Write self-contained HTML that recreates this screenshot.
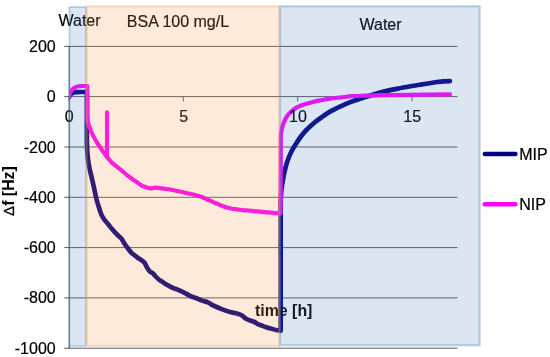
<!DOCTYPE html>
<html>
<head>
<meta charset="utf-8">
<title>QCM frequency shift: MIP vs NIP</title>
<style>
html,body{margin:0;padding:0;background:#fff;}
body{width:550px;height:357px;overflow:hidden;}
svg{display:block;}
text{font-family:"Liberation Sans",Arial,sans-serif;fill:#000;}
.lbl{font-size:16px;stroke:#000;stroke-width:0.2px;}
.b{font-weight:bold;font-size:15.9px;fill:#000;}
</style>
</head>
<body>
<svg width="550" height="357" viewBox="0 0 550 357">
  <defs>
    <clipPath id="plot"><rect x="69.1" y="0" width="400" height="357"/></clipPath>
    <filter id="soft" x="-5%" y="-5%" width="110%" height="110%"><feGaussianBlur stdDeviation="0.45"/></filter>
  </defs>
  <rect x="0" y="0" width="550" height="357" fill="#ffffff"/>

  <!-- gridlines, axis, ticks -->
  <g stroke="#484848" stroke-width="0.9" fill="none">
    <line x1="64.2" y1="46.4" x2="457.5" y2="46.4"/>
    <line x1="64.2" y1="96.6" x2="457.5" y2="96.6"/>
    <line x1="64.2" y1="147.0" x2="457.5" y2="147.0"/>
    <line x1="64.2" y1="197.3" x2="457.5" y2="197.3"/>
    <line x1="64.2" y1="247.6" x2="457.5" y2="247.6"/>
    <line x1="64.2" y1="297.9" x2="457.5" y2="297.9"/>
    <line x1="64.2" y1="348.2" x2="457.5" y2="348.2"/>
    <line x1="69.2" y1="46" x2="69.2" y2="348.6" stroke="#2a2a2a"/>
    <line x1="69.3" y1="96.6" x2="69.3" y2="101.4"/>
    <line x1="183.3" y1="96.6" x2="183.3" y2="101.4"/>
    <line x1="297.7" y1="96.6" x2="297.7" y2="101.4"/>
    <line x1="412" y1="96.6" x2="412" y2="101.4"/>
  </g>

  <!-- y labels -->
  <g class="lbl" text-anchor="end">
    <text x="55.7" y="51.9">200</text>
    <text x="55.7" y="102.1">0</text>
    <text x="55.7" y="152.5">-200</text>
    <text x="55.7" y="202.8">-400</text>
    <text x="55.7" y="253.1">-600</text>
    <text x="55.7" y="303.4">-800</text>
    <text x="55.7" y="353.7">-1000</text>
  </g>
  <!-- region titles -->
  <g class="lbl">
    <text x="58.5" y="26">Water</text>
    <text x="126.8" y="26.9">BSA 100 mg/L</text>
    <text x="359.5" y="29.5">Water</text>
  </g>

  <!-- MIP curve -->
  <g clip-path="url(#plot)">
  <path fill="none" stroke="#000080" stroke-width="4.7" stroke-linejoin="round" stroke-linecap="round"
    d="M69.3,96.6 C69.5,96.3 70.0,95.2 70.5,94.6 C71.0,94.0 71.4,93.6 72.0,93.2 C72.6,92.8 73.2,92.6 74.0,92.4 C74.8,92.2 75.5,92.2 76.5,92.1 C77.5,92.0 78.3,92.1 80.0,92.0 C81.7,92.0 85.8,92.0 86.9,92.0 L86.9,140.0 C86.9,141.3 87.0,145.4 87.1,148.0 C87.2,150.6 87.4,153.1 87.6,155.5 C87.8,157.9 88.2,160.2 88.5,162.5 C88.8,164.8 89.2,166.8 89.7,169.2 C90.2,171.6 91.0,174.4 91.6,177.0 C92.2,179.6 92.8,182.3 93.4,184.9 C94.0,187.5 94.5,190.0 95.0,192.5 C95.5,195.0 96.1,197.8 96.7,200.0 C97.3,202.2 97.7,203.6 98.5,206.0 C99.3,208.4 100.4,212.3 101.4,214.6 C102.4,216.9 103.5,218.4 104.6,220.0 C105.7,221.6 106.9,222.7 108.0,224.0 C109.1,225.3 110.0,226.6 111.2,228.0 C112.4,229.4 113.8,231.0 115.0,232.3 C116.2,233.6 117.5,234.9 118.6,236.0 C119.7,237.1 120.5,237.4 121.4,238.6 C122.3,239.8 123.2,241.6 124.1,243.0 C125.0,244.4 125.8,245.6 127.0,247.2 C128.2,248.8 130.2,251.5 131.5,252.8 C132.8,254.1 133.5,254.3 134.6,255.2 C135.7,256.1 137.0,257.2 138.1,258.0 C139.2,258.8 140.1,259.2 141.2,260.0 C142.2,260.8 143.4,261.2 144.4,262.5 C145.4,263.8 146.0,265.9 147.0,267.5 C148.0,269.1 149.2,270.9 150.2,271.8 C151.2,272.8 151.9,272.4 152.8,273.2 C153.7,274.0 154.7,275.4 155.7,276.5 C156.7,277.6 157.8,278.7 158.8,279.5 C159.8,280.3 160.6,280.6 161.8,281.4 C163.0,282.2 164.3,283.3 166.0,284.3 C167.7,285.3 170.2,286.7 172.0,287.5 C173.8,288.3 175.1,288.5 177.0,289.3 C178.9,290.1 181.4,291.2 183.6,292.3 C185.8,293.4 187.9,294.9 190.0,295.8 C192.1,296.8 194.0,297.2 196.0,298.0 C198.0,298.8 200.0,299.9 202.0,300.6 C204.0,301.3 206.2,301.6 208.0,302.4 C209.8,303.2 211.2,304.5 213.0,305.4 C214.8,306.3 217.0,307.2 219.0,308.0 C221.0,308.8 223.2,309.7 225.0,310.4 C226.8,311.1 228.2,311.5 230.0,312.0 C231.8,312.5 234.0,312.7 236.0,313.3 C238.0,313.9 240.5,314.7 242.0,315.5 C243.5,316.3 244.0,317.3 245.0,318.0 C246.0,318.7 246.4,318.9 248.0,319.6 C249.6,320.3 252.8,321.2 254.5,322.0 C256.2,322.8 256.8,323.6 258.0,324.2 C259.2,324.8 260.5,325.1 262.0,325.6 C263.5,326.2 265.5,327.0 267.0,327.5 C268.5,328.0 269.5,328.2 271.0,328.6 C272.5,329.0 274.4,329.7 276.0,330.0 C277.6,330.3 279.9,330.5 280.7,330.6 L280.7,200.0 C280.8,198.7 281.0,194.2 281.2,192.0 C281.4,189.8 281.5,189.2 281.9,186.5 C282.3,183.8 283.1,178.8 283.7,175.5 C284.3,172.2 284.9,169.8 285.7,167.0 C286.4,164.2 287.2,161.6 288.2,159.0 C289.2,156.4 290.3,153.9 291.5,151.5 C292.7,149.1 294.0,147.0 295.5,144.6 C297.0,142.2 298.7,139.4 300.5,137.0 C302.3,134.6 303.9,132.5 306.4,130.0 C308.9,127.5 312.8,124.1 315.5,121.8 C318.2,119.6 320.1,118.3 322.5,116.6 C324.9,114.9 327.4,113.1 330.0,111.6 C332.6,110.1 335.2,108.9 338.0,107.5 C340.8,106.2 343.8,104.8 346.5,103.6 C349.2,102.5 351.6,101.6 354.0,100.7 C356.4,99.9 358.0,99.5 361.0,98.6 C364.0,97.6 368.2,96.1 372.0,94.9 C375.8,93.8 379.3,92.7 383.6,91.6 C387.9,90.6 393.3,89.5 398.0,88.6 C402.7,87.6 408.0,86.7 412.0,86.0 C416.0,85.3 418.8,84.9 422.0,84.4 C425.2,83.9 428.5,83.4 431.0,83.0 C433.5,82.6 435.0,82.3 437.0,82.0 C439.0,81.7 440.9,81.6 443.0,81.4 C445.1,81.2 448.8,81.1 449.9,81.1"/>

  <!-- NIP curve -->
  <path fill="none" stroke="#ff00ff" stroke-width="4.2" stroke-linejoin="round" stroke-linecap="round"
    d="M69.3,96.6 C69.4,96.2 69.5,94.9 69.8,94.0 C70.1,93.1 70.5,92.3 71.1,91.4 C71.7,90.5 72.5,89.5 73.2,88.8 C74.0,88.1 75.0,87.4 75.9,87.0 C76.8,86.6 77.6,86.4 78.6,86.2 C79.6,86.0 80.5,86.1 82.0,86.0 C83.5,86.0 86.4,86.0 87.3,86.0 L87.4,118.0 C87.5,118.8 87.7,121.0 88.0,122.5 C88.3,124.0 88.8,125.1 89.5,127.0 C90.2,128.9 91.3,131.8 92.3,134.0 C93.3,136.2 94.4,138.1 95.5,140.0 C96.6,141.9 97.8,143.7 99.0,145.6 C100.2,147.5 101.7,149.6 103.0,151.5 C104.3,153.4 106.3,156.0 107.0,156.9 L107.0,156.9 C107.8,157.8 110.0,160.8 111.5,162.3 C113.0,163.8 114.6,164.8 116.0,166.0 C117.4,167.2 118.7,168.1 120.0,169.2 C121.3,170.2 122.5,171.2 123.8,172.3 C125.1,173.4 126.6,174.7 128.0,175.8 C129.4,176.9 130.7,177.8 132.0,178.8 C133.3,179.8 134.7,180.7 136.0,181.6 C137.3,182.5 138.6,183.5 140.0,184.4 C141.4,185.3 143.1,186.2 144.5,186.8 C145.9,187.4 147.2,187.8 148.5,188.0 C149.8,188.2 150.9,188.4 152.0,188.3 C153.1,188.2 153.9,187.8 155.0,187.7 C156.1,187.6 157.1,187.8 158.3,187.9 C159.5,188.0 160.6,188.2 162.0,188.4 C163.4,188.6 165.3,188.8 167.0,189.0 C168.7,189.2 170.5,189.6 172.0,189.9 C173.5,190.2 174.5,190.4 176.0,190.7 C177.5,191.0 179.5,191.5 181.0,191.8 C182.5,192.1 183.5,192.4 185.0,192.7 C186.5,193.0 188.4,193.5 190.0,193.8 C191.6,194.2 193.0,194.4 194.5,194.8 C196.0,195.2 197.6,195.6 199.0,196.0 C200.4,196.4 201.7,196.9 203.0,197.5 C204.3,198.1 205.7,198.9 207.0,199.5 C208.3,200.1 209.7,200.4 211.0,201.0 C212.3,201.6 213.7,202.4 215.0,203.0 C216.3,203.6 217.7,203.9 219.0,204.5 C220.3,205.1 221.6,205.8 223.0,206.3 C224.4,206.8 225.8,207.3 227.3,207.7 C228.8,208.1 230.2,208.5 232.0,208.8 C233.8,209.1 236.0,209.2 238.0,209.5 C240.0,209.8 242.2,210.1 244.0,210.3 C245.8,210.5 247.2,210.3 249.0,210.5 C250.8,210.7 253.2,211.1 255.0,211.3 C256.8,211.5 258.2,211.4 260.0,211.6 C261.8,211.8 264.2,212.1 266.0,212.3 C267.8,212.5 269.3,212.4 271.0,212.6 C272.7,212.8 274.4,213.1 276.0,213.2 C277.6,213.3 279.8,213.4 280.6,213.4 L280.8,135.4 C280.9,134.6 281.2,132.2 281.6,130.4 C282.0,128.5 282.4,126.5 283.0,124.6 C283.6,122.7 284.8,120.4 285.5,118.9 C286.2,117.4 286.8,116.5 287.5,115.5 C288.2,114.5 289.0,113.6 290.0,112.7 C291.0,111.7 292.3,110.6 293.5,109.7 C294.7,108.8 295.6,108.1 297.3,107.2 C299.1,106.4 301.6,105.4 304.0,104.6 C306.4,103.8 309.2,102.9 312.0,102.2 C314.8,101.4 318.0,100.8 321.0,100.2 C324.0,99.6 326.7,99.1 330.0,98.6 C333.3,98.1 337.3,97.8 341.0,97.4 C344.7,97.0 347.8,96.5 352.0,96.2 C356.2,95.9 360.7,95.8 366.0,95.6 C371.3,95.4 376.3,95.4 383.6,95.2 C390.9,95.1 398.9,95.0 410.0,94.9 C421.1,94.7 443.3,94.5 450.0,94.4"/>
  <line x1="107" y1="112.2" x2="107" y2="157" stroke="#ff00ff" stroke-width="4.1" stroke-linecap="round"/>
  </g>

  <!-- x labels -->
  <g class="lbl" text-anchor="middle">
    <text x="69.3" y="121.5">0</text>
    <text x="183.6" y="121.5">5</text>
    <text x="297.9" y="121.5">10</text>
    <text x="412.2" y="121.5">15</text>
  </g>

  <!-- axis titles -->
  <text class="b" x="255" y="315.6">time [h]</text>
  <text class="b" transform="translate(13.9,215.9) rotate(-90)"><tspan style="font-weight:normal;font-size:15px;stroke:#111;stroke-width:0.3px">Δ</tspan>f [Hz]</text>

  <!-- translucent shaded regions on top -->
  <g filter="url(#soft)">
    <rect x="280" y="6.3" width="199.6" height="339" fill="#4f81bd" fill-opacity="0.2" stroke="#4f81bd" stroke-opacity="0.36" stroke-width="2.2"/>
    <rect x="69.5" y="7" width="16.3" height="339" fill="#4f81bd" fill-opacity="0.2" stroke="#4f81bd" stroke-opacity="0.38" stroke-width="1.6"/>
    <rect x="86.7" y="6.4" width="192.6" height="339.4" fill="#f79646" fill-opacity="0.2" stroke="#f79646" stroke-opacity="0.36" stroke-width="1.8"/>
  </g>

  <!-- legend -->
  <line x1="484.8" y1="154" x2="515.4" y2="154" stroke="#000080" stroke-width="4.5" stroke-linecap="round"/>
  <text class="lbl" x="519.2" y="159.6">MIP</text>
  <line x1="484.8" y1="204.3" x2="515.4" y2="204.3" stroke="#ff00ff" stroke-width="4.5" stroke-linecap="round"/>
  <text class="lbl" x="519.2" y="209.6">NIP</text>
</svg>
</body>
</html>
